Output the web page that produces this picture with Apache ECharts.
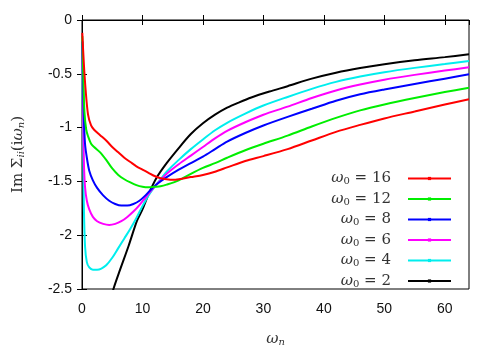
<!DOCTYPE html>
<html>
<head>
<meta charset="utf-8">
<script src="https://cdn.jsdelivr.net/npm/echarts@6/dist/echarts.min.js"></script>
<style>
html, body { margin: 0; padding: 0; background: #fff; }
#chart { width: 502px; height: 352px; }
</style>
</head>
<body>
<div id="chart"></div>
<script>
// omega_0 labels of the curves
const omega0 = ['16', '12', '8', '6', '4', '2']
const colors = ['#ff0000', '#00ee00', '#0000ff', '#ff00ff', '#00eeee', '#000000']

// [omega_n, Im Sigma]
const w16 = [[0.05,-0.12],[0.3,-0.4],[0.6,-0.65],[1,-0.88],[1.5,-0.98],[2,-1.02],[3,-1.07],[4,-1.12],[5,-1.18],[6,-1.23],[7,-1.28],[8,-1.32],[9,-1.36],[10,-1.39],[11,-1.42],[12,-1.45],[13,-1.47],[14,-1.48],[15,-1.485],[16,-1.48],[18,-1.46],[20,-1.44],[22,-1.41],[24,-1.37],[27,-1.31],[30,-1.265],[34,-1.2],[38,-1.12],[42,-1.04],[46,-0.975],[50,-0.915],[55,-0.85],[60,-0.785],[64,-0.737]]
const w12 = [[0.05,-0.15],[0.2,-0.5],[0.4,-0.85],[0.7,-1.02],[1,-1.08],[1.5,-1.15],[2,-1.18],[3,-1.23],[4,-1.3],[5,-1.38],[6,-1.44],[7,-1.48],[8,-1.51],[9,-1.535],[10,-1.55],[11,-1.555],[12,-1.55],[13,-1.545],[14,-1.53],[16,-1.49],[18,-1.43],[20,-1.375],[22,-1.33],[24,-1.28],[27,-1.21],[30,-1.15],[34,-1.075],[38,-0.99],[42,-0.91],[46,-0.84],[50,-0.785],[55,-0.725],[60,-0.67],[64,-0.63]]
const w8 = [[0.05,-0.2],[0.15,-0.5],[0.3,-0.9],[0.5,-1.15],[0.8,-1.28],[1.2,-1.4],[1.8,-1.49],[2.5,-1.56],[3.5,-1.63],[4.5,-1.68],[5.5,-1.71],[6.5,-1.725],[7.5,-1.725],[8.5,-1.71],[9.5,-1.68],[10.5,-1.63],[11.5,-1.57],[12.5,-1.52],[14,-1.46],[16,-1.39],[18,-1.33],[20,-1.27],[22,-1.2],[24,-1.13],[27,-1.05],[30,-0.98],[34,-0.9],[38,-0.825],[42,-0.75],[46,-0.69],[50,-0.645],[55,-0.595],[60,-0.545],[64,-0.505]]
const w6 = [[0.05,-0.2],[0.12,-0.5],[0.2,-0.9],[0.3,-1.3],[0.5,-1.55],[0.8,-1.68],[1.2,-1.76],[1.8,-1.83],[2.5,-1.87],[3.5,-1.895],[4.5,-1.905],[5.5,-1.895],[6.5,-1.87],[7.5,-1.83],[8.5,-1.78],[9.5,-1.72],[10.5,-1.65],[11.5,-1.58],[12.5,-1.52],[14,-1.43],[16,-1.34],[18,-1.26],[20,-1.18],[22,-1.1],[24,-1.03],[27,-0.95],[30,-0.88],[34,-0.805],[38,-0.725],[42,-0.655],[46,-0.6],[50,-0.555],[55,-0.51],[60,-0.47],[64,-0.44]]
const w4 = [[0.05,-0.2],[0.1,-0.6],[0.2,-1.2],[0.3,-1.7],[0.5,-2.1],[0.8,-2.25],[1.2,-2.3],[1.8,-2.32],[2.5,-2.32],[3.2,-2.31],[4,-2.28],[5,-2.21],[6,-2.12],[7,-2.03],[8,-1.94],[9,-1.84],[10,-1.73],[11,-1.63],[12,-1.55],[13,-1.48],[14,-1.41],[16,-1.3],[18,-1.2],[20,-1.11],[22,-1.025],[24,-0.955],[27,-0.87],[30,-0.795],[34,-0.715],[38,-0.64],[42,-0.575],[46,-0.525],[50,-0.485],[55,-0.445],[60,-0.41],[64,-0.38]]
const w2 = [[4.7,-2.62],[5.2,-2.5],[6.3,-2.32],[7.7,-2.1],[9.1,-1.865],[10,-1.76],[11,-1.62],[12.4,-1.46],[14,-1.33],[16,-1.19],[18,-1.06],[20,-0.96],[22,-0.88],[24,-0.815],[26,-0.765],[28,-0.72],[31,-0.665],[34,-0.615],[38,-0.545],[42,-0.49],[46,-0.447],[50,-0.412],[55,-0.375],[60,-0.345],[64,-0.318]]

const curves = [w16, w12, w8, w6, w4, w2]

const xTicks = { min: 0, max: 64, interval: 10 }
const yTicks = { min: -2.5, max: 0, interval: 0.5 }

const chart = echarts.init(document.getElementById('chart'))

const tickFont = { color: '#111', fontSize: 14, fontFamily: 'Liberation Sans, Arial, sans-serif' }

const series = curves.map((d, i) => ({
  name: omega0[i],
  type: 'line',
  data: d,
  smooth: 0.3,
  symbol: 'rect',
  symbolSize: 3,
  showSymbol: false,
  color: colors[i],
  lineStyle: { width: 2, color: colors[i] },
  itemStyle: { color: colors[i] },
  z: 10 - i
}))

chart.setOption({
  animation: false,
  grid: { left: 82, right: 33, top: 20, bottom: 55, show: true, borderColor: '#000', borderWidth: 1 },
  legend: {
    orient: 'vertical',
    right: 45,
    top: 166,
    align: 'right',
    itemWidth: 43,
    itemHeight: 4,
    itemGap: 5,
    data: omega0,
    formatter: n => '{w|ω}{s|0}{t| = ' + n + '}',
    textStyle: {
      padding: [0, 12, 0, 0],
      rich: {
        w: { fontFamily: 'DejaVu Serif', fontStyle: 'italic', fontSize: 15, color: '#333' },
        s: { fontFamily: 'DejaVu Serif', fontSize: 10, color: '#333', verticalAlign: 'bottom', padding: [6, 0, 0, 0] },
        t: { fontFamily: 'DejaVu Serif', fontSize: 15, color: '#333' }
      }
    }
  },
  xAxis: [{
    type: 'value', ...xTicks,
    name: '{w|ω}{s|n}', nameLocation: 'middle', nameGap: 42,
    nameTextStyle: { rich: {
      w: { fontFamily: 'DejaVu Serif', fontStyle: 'italic', fontSize: 15, color: '#333' },
      s: { fontFamily: 'DejaVu Serif', fontStyle: 'italic', fontSize: 10, color: '#333', padding: [6, 0, 0, 0] }
    } },
    axisLine: { lineStyle: { color: '#000' } },
    axisTick: { inside: true, length: 5, lineStyle: { color: '#000' } },
    axisLabel: { ...tickFont, margin: 13, showMaxLabel: false },
    splitLine: { show: false }
  }, {
    type: 'value', position: 'top', ...xTicks,
    axisLine: { lineStyle: { color: '#000' } },
    axisTick: { inside: true, length: 5, lineStyle: { color: '#000' } },
    axisLabel: { show: false },
    splitLine: { show: false }
  }],
  yAxis: [{
    type: 'value', ...yTicks,
    name: 'Im {S|Σ}{s|ii}(i{w|ω}{s|n})', nameLocation: 'middle', nameGap: 56, nameRotate: 90,
    nameTextStyle: { fontFamily: 'DejaVu Serif', fontSize: 15, color: '#333', rich: {
      S: { fontFamily: 'DejaVu Serif', fontSize: 15, color: '#333' },
      w: { fontFamily: 'DejaVu Serif', fontStyle: 'italic', fontSize: 15, color: '#333' },
      s: { fontFamily: 'DejaVu Serif', fontStyle: 'italic', fontSize: 10, color: '#333', padding: [6, 0, 0, 0] }
    } },
    axisLine: { lineStyle: { color: '#000' } },
    axisTick: { inside: true, length: 5, lineStyle: { color: '#000' } },
    axisLabel: { ...tickFont, margin: 10 },
    splitLine: { show: false }
  }, {
    type: 'value', position: 'right', ...yTicks,
    axisLine: { lineStyle: { color: '#000' } },
    axisTick: { inside: true, length: 5, lineStyle: { color: '#000' } },
    axisLabel: { show: false },
    splitLine: { show: false }
  }],
  series: series
})
</script>
</body>
</html>
